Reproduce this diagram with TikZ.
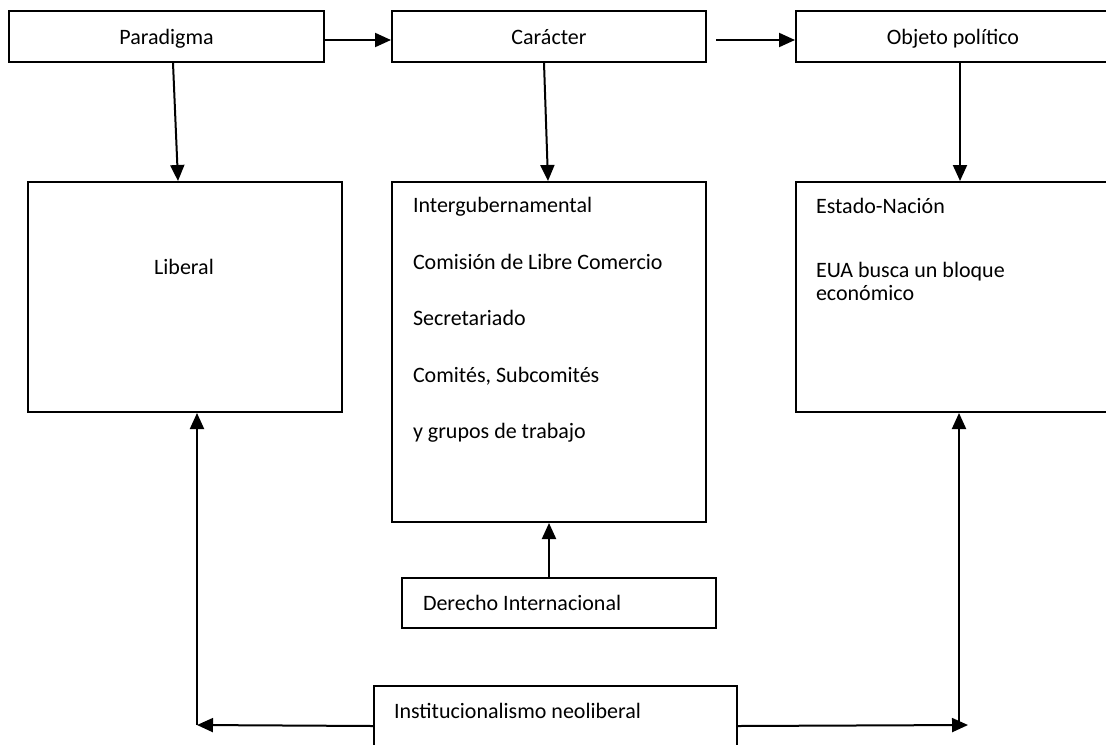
\documentclass[tikz,border=0pt]{standalone}
\usepackage{fontspec}
\setmainfont{Carlito}
\usepackage{tikz}
\usetikzlibrary{arrows.meta}

\begin{document}
\begin{tikzpicture}[x=0.5pt, y=-0.5pt, line width=1pt,
        font=\fontsize{11}{13}\selectfont,
        box/.style={draw, rectangle, inner sep=0pt, anchor=north west},
        lbl/.style={anchor=base west, inner sep=0pt},
        arr/.style={-{Triangle[length=8pt, width=7pt]}}]
        \useasboundingbox (0, 0) rectangle (1106, 744);
        \clip (0, 0) rectangle (1106, 744);

        % fila de arriba
        \node[box, text depth=0pt, minimum width=157.5pt, minimum height=25.5pt] (par) at (8, 10) {Paradigma};
        \node[box, text depth=0pt, minimum width=157pt, minimum height=25.5pt] (car) at (391, 10) {Carácter};
        \node[box, text depth=0pt, minimum width=157pt, minimum height=25.5pt] (obj) at (795, 10) {Objeto político};

        % cajas grandes
        \node[box, minimum width=157pt, minimum height=115pt] (lib) at (27, 181) {};
        \node[box, minimum width=157pt, minimum height=170pt] (mid) at (391, 181) {};
        \node[box, minimum width=157pt, minimum height=115pt] (est) at (795, 181) {};

        \node[anchor=base, inner sep=0pt] (libt) at (184, 274) {Liberal};

        \node[lbl] (m1) at (412, 212) {Intergubernamental};
        \node[lbl] (m2) at (412, 269) {Comisión de Libre Comercio};
        \node[lbl] (m3) at (412, 325) {Secretariado};
        \node[lbl] (m4) at (412, 382) {Comités, Subcomités};
        \node[lbl] (m5) at (412, 438) {y grupos de trabajo};

        \node[lbl] (e1) at (815, 213) {Estado-Nación};
        \node[lbl] (e2) at (815, 277) {EUA busca un bloque};
        \node[lbl] (e3) at (815, 300) {económico};

        % abajo
        \node[box, minimum width=157pt, minimum height=25pt] (der) at (401, 577) {};
        \node[lbl] (dert) at (422, 610) {Derecho Internacional};
        \node[box, minimum width=181.5pt, minimum height=40pt] (inst) at (373, 685) {};
        \node[lbl] (instt) at (393, 718) {Institucionalismo neoliberal};

        \coordinate (cl) at (197, 725);
        \coordinate (cr) at (959, 725);

        \draw[arr] ([yshift=-1.75pt]par.east) -- ([yshift=-1.75pt]car.west);
        \draw[arr] ([xshift=4.5pt, yshift=-1.75pt]car.east) -- ([yshift=-1.75pt]obj.west);

        \draw[arr] ([xshift=3.25pt]par.south) -- ([xshift=-3.5pt]lib.north);
        \draw[arr] ([xshift=-2.5pt]car.south) -- ([xshift=-0.5pt]mid.north);
        \draw[arr] ([xshift=3.5pt]obj.south) -- ([xshift=3.5pt]est.north);

        \draw[arr] (der.north -| mid.south) -- (mid.south);

        \draw[arr] (inst.west) -- (cl);
        \draw[arr] (cl) -- (cl |- lib.south);
        \draw[arr] (inst.east) -- ([xshift=4.5pt]cr);
        \draw[arr] (cr) -- (cr |- est.south);
    \end{tikzpicture}
\end{document}
